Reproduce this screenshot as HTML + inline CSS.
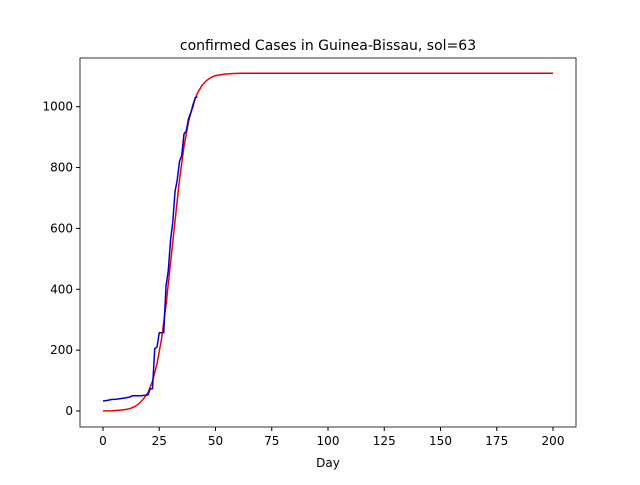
<!DOCTYPE html>
<html><head><meta charset="utf-8"><style>
body{margin:0;background:#fff}
svg text{font-family:"DejaVu Sans","Liberation Sans",sans-serif;font-size:10px;fill:#000}
</style></head><body>
<svg id="chart" width="640" height="480" xmlns="http://www.w3.org/2000/svg">
<rect width="640" height="480" fill="#fff"/>
<text x="328" y="50" text-anchor="middle" style="font-size:14px">confirmed Cases in Guinea-Bissau, sol=63</text>
<text x="328" y="467" text-anchor="middle" style="font-size:12px">Day</text>
<g id="ticks"></g>
<path id="red" fill="none" stroke="#e00" stroke-width="1.5"/>
<path id="blue" fill="none" stroke="#00c" stroke-width="1.5"/>
<rect x="80" y="58" width="496" height="369" fill="none" stroke="#000" stroke-width="0.8"/>
</svg>
<script>
const xTicks=[0,25,50,75,100,125,150,175,200];
const yTicks=[0,200,400,600,800,1000];
const blueDays=[0,2,4,5,7,9,10,12,13,15,17,20,21,22,23,24,25,26,27,28,29,30,31,32,33,34,35,36,37,38,39,40,41,42];
const blueVals=[33,35,38,38,40,42,43,46,50,50,50,53,73,73,205,210,257,257,257,410,460,560,620,720,760,820,840,910,920,960,980,1000,1030,1032];
const redDays=[0,4,8,10,12,14,16,18,20,22,24,26,28,30,32,34,36,38,40,42,44,46,48,50,54,58,62,70,200];
const redVals=[0.4,1,3,5,8,14,24,40,60,98,155,236,348,485,624,760,870,950,1008,1045,1070,1086,1096,1102,1107,1109,1110,1110,1110];
const X=d=>103+d*2.25, Y=v=>411-v*0.3043;
const g=document.getElementById('ticks');
xTicks.forEach(t=>{
 const l=document.createElementNS('http://www.w3.org/2000/svg','line');
 l.setAttribute('x1',X(t));l.setAttribute('x2',X(t));l.setAttribute('y1',427);l.setAttribute('y2',431);l.setAttribute('stroke','#000');
 
 
 g.appendChild(l);
 const s=document.createElementNS('http://www.w3.org/2000/svg','text');
 s.setAttribute('x',X(t));s.setAttribute('y',445);s.setAttribute('text-anchor','middle');s.textContent=t;
 s.setAttribute('style','font-size:12px');
 
 
 g.appendChild(s);
});
yTicks.forEach(t=>{
 const l=document.createElementNS('http://www.w3.org/2000/svg','line');
 l.setAttribute('x1',76);l.setAttribute('x2',80);l.setAttribute('y1',Y(t));l.setAttribute('y2',Y(t));l.setAttribute('stroke','#000');
 
 
 g.appendChild(l);
 const s=document.createElementNS('http://www.w3.org/2000/svg','text');
 s.setAttribute('x',73);s.setAttribute('y',Y(t)+4);s.setAttribute('text-anchor','end');s.textContent=t;
 s.setAttribute('style','font-size:12px');
 
 
 g.appendChild(s);
});
document.getElementById('red').setAttribute('d',redDays.map((d,i)=>(i?'L':'M')+X(d)+','+Y(redVals[i])).join(''));
document.getElementById('blue').setAttribute('d',blueDays.map((d,i)=>(i?'L':'M')+X(d)+','+Y(blueVals[i])).join(''));
</script>
</body></html>
